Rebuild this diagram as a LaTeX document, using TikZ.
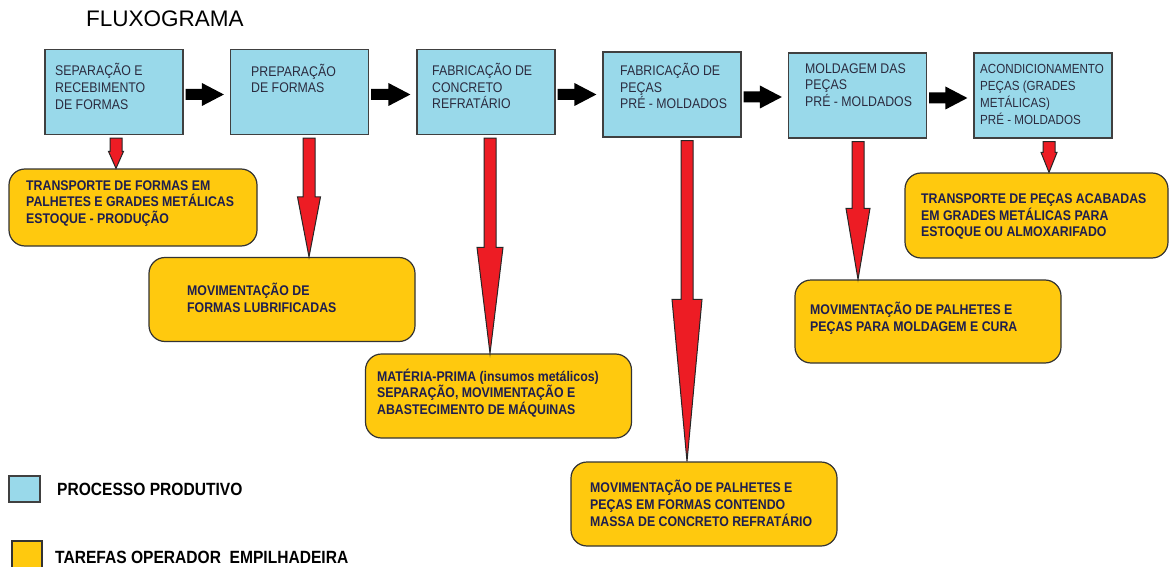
\documentclass[tikz,border=0pt]{standalone}
\usepackage{fontspec}
\setmainfont{Liberation Sans}[FakeStretch=0.88]
\newfontfamily\titlefont{Liberation Sans}
\usetikzlibrary{calc}

\definecolor{procblue}{HTML}{99D9EA}
\definecolor{taskyellow}{HTML}{FFC90E}
\definecolor{arrowred}{HTML}{ED1C24}
\definecolor{proctext}{HTML}{2B2B3F}
\definecolor{tasktext}{HTML}{1E1E4E}

% black block arrow between two process boxes
\newcommand{\flowarrow}[2]{%
  \fill[black] let \p1=([xshift=2pt,yshift=-2.5pt]#1.east), \p2=([xshift=-6pt]#2.west) in
    (\x1,\y1+5.5pt) -- (\x2-22pt,\y1+5.5pt) -- (\x2-22pt,\y1+11.5pt) -- (\x2,\y1)
    -- (\x2-22pt,\y1-11.5pt) -- (\x2-22pt,\y1-5.5pt) -- (\x1,\y1-5.5pt) -- cycle;}

% red block arrow: box, x offset, task, head half width, head length
\newcommand{\taskarrow}[5]{%
  \filldraw[fill=arrowred, draw=black!85, line width=1pt]
    let \p1=([xshift=#2pt,yshift=-3pt]#1.south), \p2=(#3.north) in
    (\x1-6pt,\y1) -- (\x1-6pt,\y2+#5) -- (\x1-#4,\y2+#5) -- (\x1,\y2)
    -- (\x1+#4,\y2+#5) -- (\x1+6pt,\y2+#5) -- (\x1+6pt,\y1) -- cycle;}

\begin{document}
\begin{tikzpicture}[x=1pt, y=-1pt,
    procbox/.style={draw=black!75, line width=1.2pt, fill=procblue,
      minimum width=138pt, minimum height=85pt, inner sep=0pt},
    proclabel/.style={anchor=west, align=left, inner sep=0pt, text=proctext,
      font=\fontsize{14}{16.7}\selectfont},
    taskbox/.style={draw=black!80, line width=1.2pt, fill=taskyellow, rounded corners=16pt,
      minimum width=266pt, minimum height=84pt, inner sep=0pt},
    tasklabel/.style={anchor=west, align=left, inner sep=0pt, text=tasktext,
      font=\fontsize{14}{16.7}\selectfont\bfseries},
    legendlabel/.style={anchor=west, inner sep=0pt, text=black,
      font=\fontsize{17.7}{20}\selectfont\bfseries}]
    \useasboundingbox (0,0) rectangle (1170,567);

    \node[anchor=west, inner sep=0pt, font=\titlefont\fontsize{22.5}{26}\selectfont] (title) at (86,19) {FLUXOGRAMA};

    % process boxes
    \node[procbox] (b1) at (114,92) {};
    \node[procbox] (b2) at (299.5,92) {};
    \node[procbox] (b3) at (486,92) {};
    \node[procbox] (b4) at (672,94.5) {};
    \node[procbox] (b5) at (857.5,95.5) {};
    \node[procbox] (b6) at (1043,95.5) {};

    \node[proclabel] (t1) at (55,86.5) {SEPARAÇÃO E\\RECEBIMENTO\\DE FORMAS};
    \node[proclabel] (t2) at (251,78.5) {PREPARAÇÃO\\DE FORMAS};
    \node[proclabel] (t3) at (432,86) {FABRICAÇÃO DE\\CONCRETO\\REFRATÁRIO};
    \node[proclabel] (t4) at (620,86) {FABRICAÇÃO DE\\PEÇAS\\PRÉ - MOLDADOS};
    \node[proclabel] (t5) at (805,85) {MOLDAGEM DAS\\PEÇAS\\PRÉ - MOLDADOS};
    \node[proclabel, font=\fontsize{13.2}{16.7}\selectfont] (t6) at (980,94.5) {ACONDICIONAMENTO\\PEÇAS (GRADES\\METÁLICAS)\\PRÉ - MOLDADOS};

    \flowarrow{b1}{b2}
    \flowarrow{b2}{b3}
    \flowarrow{b3}{b4}
    \flowarrow{b4}{b5}
    \flowarrow{b5}{b6}

    % forklift tasks
    \node[taskbox, minimum width=248pt, minimum height=77pt] (y1) at (133,207.5) {};
    \node[taskbox] (y2) at (282,299.5) {};
    \node[taskbox] (y3) at (498.5,396) {};
    \node[taskbox] (y4) at (704,504) {};
    \node[taskbox, minimum height=83pt] (y5) at (928,321.5) {};
    \node[taskbox, minimum width=263pt, minimum height=85pt] (y6) at (1036.5,215.5) {};

    \node[tasklabel] (l1) at (26,203.5) {TRANSPORTE DE FORMAS EM\\PALHETES E GRADES METÁLICAS\\ESTOQUE - PRODUÇÃO};
    \node[tasklabel] (l2) at (187,297.5) {MOVIMENTAÇÃO DE\\FORMAS LUBRIFICADAS};
    \node[tasklabel] (l3) at (377,393) {MATÉRIA-PRIMA (insumos metálicos)\\SEPARAÇÃO, MOVIMENTAÇÃO E\\ABASTECIMENTO DE MÁQUINAS};
    \node[tasklabel] (l4) at (590,503.5) {MOVIMENTAÇÃO DE PALHETES E\\PEÇAS EM FORMAS CONTENDO\\MASSA DE CONCRETO REFRATÁRIO};
    \node[tasklabel] (l5) at (810,318.5) {MOVIMENTAÇÃO DE PALHETES E\\PEÇAS PARA MOLDAGEM E CURA};
    \node[tasklabel] (l6) at (921,216.5) {TRANSPORTE DE PEÇAS ACABADAS\\EM GRADES METÁLICAS PARA\\ESTOQUE OU ALMOXARIFADO};

    \taskarrow{b1}{2}{y1}{7.5pt}{17pt}
    \taskarrow{b2}{9.5}{y2}{11.5pt}{60pt}
    \taskarrow{b3}{4}{y3}{13pt}{106pt}
    \taskarrow{b4}{15}{y4}{15pt}{162pt}
    \taskarrow{b5}{0.5}{y5}{12pt}{71pt}
    \taskarrow{b6}{6}{y6}{8pt}{20pt}

    % legend
    \node[draw=black!75, line width=1.2pt, fill=procblue, minimum width=31pt, minimum height=26pt, inner sep=0pt] (lgb) at (24.5,489) {};
    \node[draw=black!80, line width=1.2pt, fill=taskyellow, minimum width=30pt, minimum height=28pt, inner sep=0pt] (lgy) at (27,555) {};
    \node[legendlabel] (lb) at (57,489) {PROCESSO PRODUTIVO};
    \node[legendlabel] (ly) at (55,557) {TAREFAS OPERADOR\ \ EMPILHADEIRA};
\end{tikzpicture}
\end{document}
